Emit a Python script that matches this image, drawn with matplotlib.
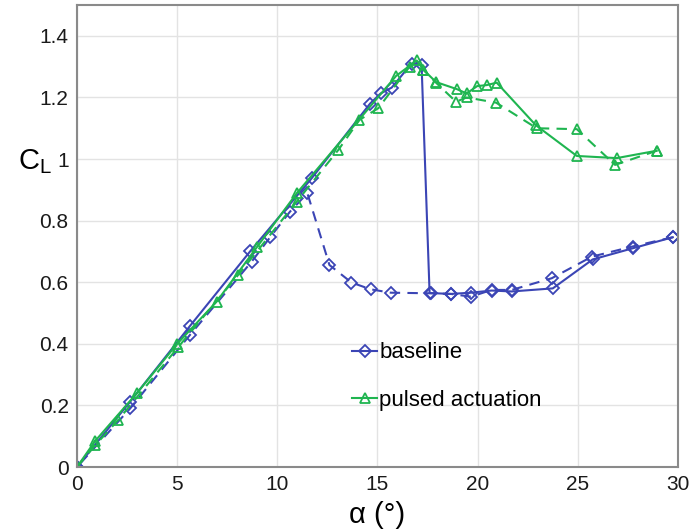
import matplotlib
matplotlib.use("Agg")
import matplotlib.pyplot as plt
from matplotlib.lines import Line2D

plt.rcParams['font.family'] = ['Liberation Sans', 'DejaVu Sans']

# baseline, increasing alpha (solid)
base_up_a = [0, 2.65, 5.64, 8.64, 11.72, 14.63, 15.16, 15.71, 16.7, 17.2, 17.6, 18.66, 19.66, 20.7, 21.7, 23.75, 25.74, 27.73, 29.74]
base_up_cl = [0, 0.212, 0.458, 0.70, 0.938, 1.18, 1.213, 1.232, 1.31, 1.306, 0.565, 0.562, 0.566, 0.573, 0.57, 0.58, 0.674, 0.71, 0.746]
# baseline, decreasing alpha (dashed)
base_dn_a = [29.74, 27.73, 25.7, 23.7, 21.7, 20.7, 19.66, 18.66, 17.66, 15.66, 14.66, 13.7, 12.6, 11.5, 10.63, 9.64, 8.72, 5.64, 2.65, 0]
base_dn_cl = [0.746, 0.716, 0.683, 0.613, 0.575, 0.575, 0.553, 0.562, 0.564, 0.566, 0.577, 0.599, 0.656, 0.889, 0.829, 0.746, 0.667, 0.429, 0.19, 0]
# pulsed actuation, increasing alpha (solid)
puls_up_a = [0, 0.9, 2.98, 5.0, 6.97, 8.97, 10.97, 15.93, 16.96, 17.29, 17.92, 18.96, 19.45, 19.98, 20.45, 20.95, 22.9, 24.95, 26.94, 28.94]
puls_up_cl = [0, 0.084, 0.239, 0.40, 0.537, 0.713, 0.889, 1.27, 1.32, 1.29, 1.25, 1.227, 1.213, 1.237, 1.24, 1.248, 1.11, 1.01, 1.003, 1.027]
# pulsed actuation, decreasing alpha (dashed)
puls_dn_a = [28.94, 26.86, 24.95, 22.95, 20.92, 19.45, 18.92, 17.92, 17.29, 16.6, 15.04, 14.1, 13.05, 10.97, 8.05, 5.06, 2.06, 0.9, 0]
puls_dn_cl = [1.027, 0.981, 1.097, 1.10, 1.183, 1.20, 1.186, 1.248, 1.29, 1.30, 1.165, 1.127, 1.03, 0.862, 0.624, 0.39, 0.153, 0.07, 0]

x_ticks = [0, 5, 10, 15, 20, 25, 30]
y_ticks = [0, 0.2, 0.4, 0.6, 0.8, 1.0, 1.2, 1.4]
y_ticklabels = ['0', '0.2', '0.4', '0.6', '0.8', '1', '1.2', '1.4']

BLUE = '#3b45b5'
GREEN = '#1fb550'

fig = plt.figure(figsize=(6.9, 5.31), dpi=100)
ax = fig.add_axes([0.1116, 0.1205, 0.871, 0.870])

mk = dict(markersize=7.5, markerfacecolor='none', markeredgewidth=1.3)
ax.plot(base_dn_a, base_dn_cl, color=BLUE, ls=(0, (5, 3.5)), lw=1.5, marker='D', **dict(mk, markersize=6.5))
ax.plot(base_up_a, base_up_cl, color=BLUE, ls='-', lw=1.5, marker='D', **dict(mk, markersize=6.5))
ax.plot(puls_dn_a, puls_dn_cl, color=GREEN, ls=(0, (5, 3.5)), lw=1.5, marker='^', **mk)
ax.plot(puls_up_a, puls_up_cl, color=GREEN, ls='-', lw=1.5, marker='^', **mk)

ax.set_xlim(0, 30)
ax.set_ylim(0, 1.5)
ax.set_xticks(x_ticks)
ax.set_yticks(y_ticks)
ax.set_yticklabels(y_ticklabels)
ax.tick_params(length=0, labelsize=15, pad=6, colors='#1a1a1a')
ax.grid(True, color='#e3e3e3', lw=1)
ax.set_axisbelow(True)
for s in ax.spines.values():
    s.set_color('#8a8a8a')
    s.set_linewidth(1.5)

ax.set_xlabel('α (°)', fontsize=21, labelpad=5)
ax.set_ylabel('$\\mathregular{C_L}$', fontsize=21, rotation=0)
ax.yaxis.set_label_coords(-0.07, 0.63)

handles = [
    Line2D([], [], color=BLUE, lw=1.5, marker='D', markersize=6, markerfacecolor='none', markeredgewidth=1.3),
    Line2D([], [], color=GREEN, lw=1.5, marker='^', markersize=7, markerfacecolor='none', markeredgewidth=1.3),
]
ax.legend(handles, ['baseline', 'pulsed actuation'], loc='upper left',
          bbox_to_anchor=(0.425, 0.313), frameon=False, fontsize=16,
          handlelength=1.1, handletextpad=0.1, labelspacing=1.2)

fig.savefig('out.png', dpi=100)
